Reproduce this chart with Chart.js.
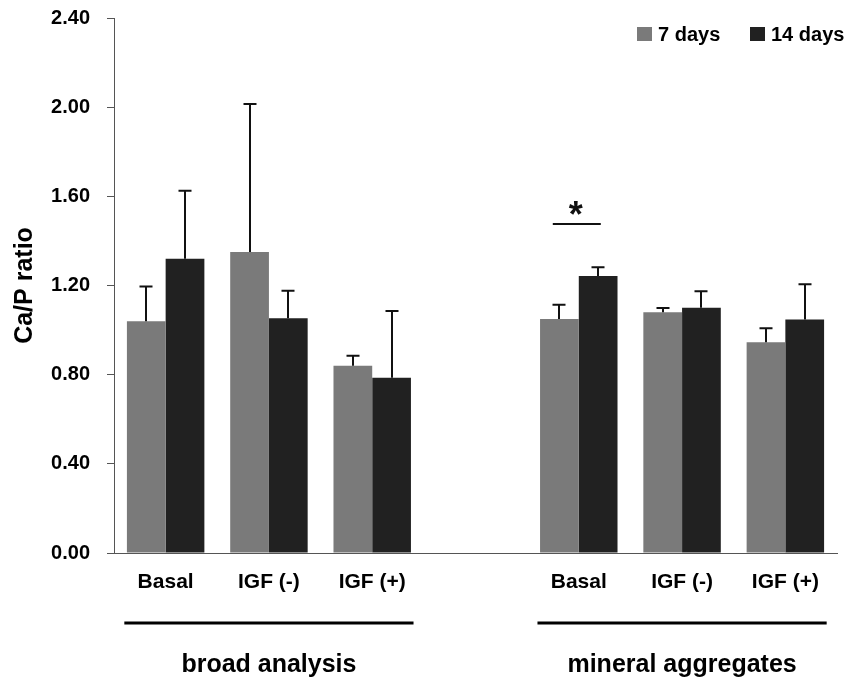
<!DOCTYPE html>
<html>
<head>
<meta charset="utf-8">
<script src="https://cdn.jsdelivr.net/npm/chart.js@4"></script>
<style>
  html, body { margin: 0; padding: 0; background: #fff; }
  #wrap { width: 848px; height: 680px; position: relative; }
</style>
</head>
<body>
<div id="wrap"><canvas id="c" width="848" height="680"></canvas></div>
<script>
// ---- data ----
const categories = ['Basal', 'IGF (-)', 'IGF (+)', '', 'Basal', 'IGF (-)', 'IGF (+)'];
const groupNames = ['broad analysis', 'mineral aggregates'];
const groupRanges = [[0, 2], [4, 6]];
const seriesNames = ['7 days', '14 days'];
const days7 = [1.04, 1.35, 0.84, null, 1.05, 1.08, 0.945];
const days14 = [1.32, 1.053, 0.786, null, 1.243, 1.10, 1.047];
const days7Upper = [1.196, 2.014, 0.885, null, 1.114, 1.099, 1.008];
const days14Upper = [1.625, 1.177, 1.086, null, 1.282, 1.174, 1.206];
const yTicks = [0, 0.4, 0.8, 1.2, 1.6, 2.0, 2.4];
const sigIndex = 4;
const sigLineValue = 1.476;
const sigStarValue = 1.557;

const FONT = "'Liberation Sans', Arial, Helvetica, sans-serif";
const colors = ['#7a7a7a', '#212121'];
const uppers = [days7Upper, days14Upper];

const extras = {
  id: 'extras',
  afterDatasetsDraw(chart) {
    const ctx = chart.ctx;
    const xs = chart.scales.x, ys = chart.scales.y;
    ctx.save();
    // error bars
    ctx.strokeStyle = '#111';
    ctx.lineWidth = 2;
    chart.data.datasets.forEach((ds, di) => {
      const meta = chart.getDatasetMeta(di);
      meta.data.forEach((bar, i) => {
        const up = uppers[di][i];
        if (up == null || ds.data[i] == null) return;
        const x = Math.round(bar.x);
        const y0 = bar.y;
        const y1 = ys.getPixelForValue(up);
        ctx.beginPath();
        ctx.moveTo(x, y0);
        ctx.lineTo(x, y1);
        ctx.moveTo(x - 6.5, y1);
        ctx.lineTo(x + 6.5, y1);
        ctx.stroke();
      });
    });
    // significance
    const sx = xs.getPixelForValue(sigIndex);
    const sy = ys.getPixelForValue(sigLineValue);
    ctx.lineWidth = 2;
    ctx.beginPath();
    ctx.moveTo(sx - 26, sy);
    ctx.lineTo(sx + 22, sy);
    ctx.stroke();
    ctx.fillStyle = '#111';
    ctx.font = 'bold 36px ' + FONT;
    ctx.textAlign = 'center';
    ctx.textBaseline = 'alphabetic';
    ctx.fillText('*', sx - 3, ys.getPixelForValue(sigStarValue) + 0.58 * 36);
    // group lines + labels
    const slot = xs.getPixelForValue(1) - xs.getPixelForValue(0);
    groupRanges.forEach((r, gi) => {
      const x0 = xs.getPixelForValue(r[0]) - 0.4 * slot;
      const x1 = xs.getPixelForValue(r[1]) + 0.4 * slot;
      ctx.lineWidth = 3;
      ctx.strokeStyle = '#000';
      ctx.beginPath();
      ctx.moveTo(x0, 623);
      ctx.lineTo(x1, 623);
      ctx.stroke();
      ctx.fillStyle = '#000';
      ctx.font = 'bold 25px ' + FONT;
      ctx.textAlign = 'center';
      ctx.textBaseline = 'middle';
      ctx.fillText(groupNames[gi], (x0 + x1) / 2, 665);
    });
    // legend
    ctx.font = 'bold 20px ' + FONT;
    ctx.textAlign = 'left';
    ctx.textBaseline = 'middle';
    const legX = [637, 750];
    seriesNames.forEach((n, i) => {
      ctx.fillStyle = colors[i];
      ctx.fillRect(legX[i], 27, 15, 14);
      ctx.fillStyle = '#000';
      ctx.fillText(n, legX[i] + 21, 35);
    });
    ctx.restore();
  }
};

new Chart(document.getElementById('c'), {
  type: 'bar',
  data: {
    labels: categories,
    datasets: [
      { label: seriesNames[0], data: days7, backgroundColor: colors[0], borderWidth: 0 },
      { label: seriesNames[1], data: days14, backgroundColor: colors[1], borderWidth: 0 }
    ]
  },
  options: {
    responsive: false,
    animation: false,
    devicePixelRatio: 1,
    layout: { padding: { top: 18, right: 11, bottom: 0, left: 0 } },
    datasets: { bar: { categoryPercentage: 0.75, barPercentage: 1.0 } },
    plugins: { legend: { display: false }, tooltip: { enabled: false } },
    scales: {
      x: {
        offset: true,
        grid: { display: false, drawTicks: false },
        border: { display: true, color: '#555', width: 1 },
        ticks: { color: '#000', font: { family: FONT, size: 21, weight: 'bold' }, padding: 17, maxRotation: 0, autoSkip: false },
        afterFit(s) { s.height = 127; }
      },
      y: {
        min: 0, max: 2.4,
        afterBuildTicks(s) { s.ticks = yTicks.map(v => ({ value: v })); },
        grid: { display: true, drawOnChartArea: false, drawTicks: true, tickLength: 7, color: '#555' },
        border: { display: true, color: '#555', width: 1 },
        ticks: { color: '#000', font: { family: FONT, size: 20, weight: 'bold' }, padding: 17,
                 callback: v => Number(v).toFixed(2) },
        title: { display: true, text: 'Ca/P ratio', color: '#000', font: { family: FONT, size: 25, weight: 'bold' }, padding: { top: 10, bottom: 0 } },
        afterFit(s) { s.width = 114; s.paddingTop = 0; s.paddingBottom = 0; }
      }
    }
  },
  plugins: [extras]
});
</script>
</body>
</html>
